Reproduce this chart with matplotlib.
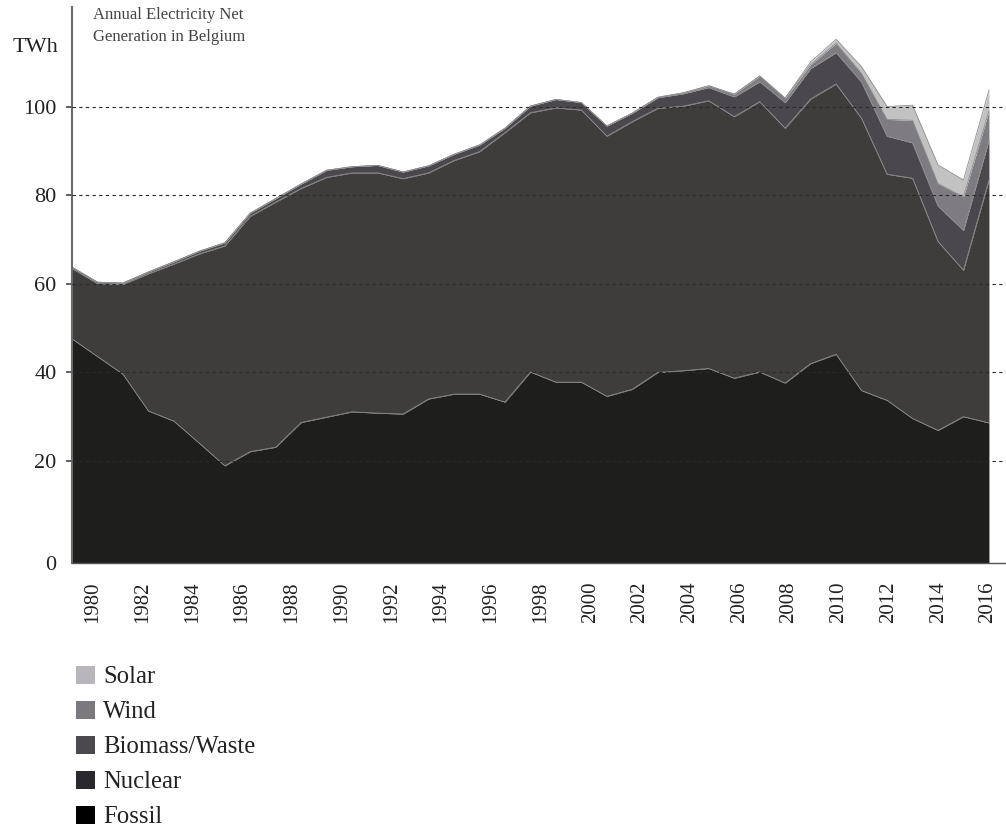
import matplotlib
matplotlib.use("Agg")
import matplotlib.pyplot as plt
from matplotlib.patches import Rectangle
import numpy as np

plt.rcParams['font.family'] = ['Liberation Serif', 'DejaVu Serif']

years = np.arange(1980, 2017)

# TWh
fossil = [47.5, 43.5, 39.5, 31.2, 28.9, 23.9, 18.8, 22.0, 23.0, 28.6,
          29.8, 31.0, 30.7, 30.5, 33.9, 35.0, 35.0, 33.2, 40.0, 37.7,
          37.7, 34.5, 36.1, 39.9, 40.3, 40.8, 38.6, 40.0, 37.5, 41.9,
          44.0, 35.8, 33.6, 29.5, 26.8, 29.9, 28.5]
nuclear = [15.9, 16.5, 20.3, 31.0, 35.5, 42.8, 49.7, 53.2, 55.4, 52.9,
           54.2, 54.0, 54.3, 53.2, 51.1, 52.8, 54.8, 60.9, 58.6, 62.0,
           61.5, 58.8, 60.5, 59.7, 59.8, 60.5, 59.1, 61.1, 57.6, 59.8,
           61.1, 61.5, 51.1, 54.3, 42.7, 33.1, 54.9]
biomass = [0.3, 0.3, 0.3, 0.4, 0.5, 0.6, 0.7, 0.7, 0.8, 1.0,
           1.6, 1.4, 1.7, 1.5, 1.6, 1.4, 1.5, 1.0, 1.5, 1.9,
           1.7, 2.3, 1.9, 2.4, 2.8, 3.0, 4.5, 4.5, 5.8, 6.9,
           7.1, 8.2, 8.6, 8.0, 8.0, 9.0, 9.0]
wind = [0, 0, 0, 0, 0, 0, 0, 0, 0, 0,
        0, 0, 0, 0, 0, 0, 0, 0, 0, 0,
        0, 0, 0, 0.1, 0.2, 0.4, 0.6, 1.3, 1.0, 0.9,
        2.1, 2.0, 3.8, 5.1, 5.1, 7.6, 6.6]
solar = [0, 0, 0, 0, 0, 0, 0, 0, 0, 0,
         0, 0, 0, 0, 0, 0, 0, 0, 0, 0,
         0, 0, 0, 0, 0, 0, 0, 0, 0, 0.6,
         0.9, 1.5, 2.9, 3.4, 4.2, 3.8, 4.7]

layer_names = ['Fossil', 'Nuclear', 'Biomass/Waste', 'Wind', 'Solar']
layer_colors = ['#1e1e1c', '#3e3d3b', '#4a484d', '#7e7c80', '#c3c2c2']
legend_colors = ['#000000', '#29282c', '#4b494e', '#7b797e', '#b8b6bb']

tick_years = np.arange(1980, 2017, 2)
grid_vals = [20, 40, 60, 80, 100]

W, H = 1006, 832
fig = plt.figure(figsize=(W / 100, H / 100), dpi=100)
ax = fig.add_axes([72 / W, 1 - 563 / H, (W - 72) / W, (563 - 7) / H])

ybot = -3.16
lower = np.full(len(years), ybot)
stack = np.zeros(len(years))
for vals, col in zip([fossil, nuclear, biomass, wind, solar], layer_colors):
    stack = stack + np.array(vals)
    ax.fill_between(years, lower, stack, color=col, lw=0, zorder=1)
    ax.plot(years, stack, color='#8e8e8e', lw=0.6, zorder=2)
    lower = stack.copy()

for g in grid_vals:
    ax.axhline(g, color='#2a2a2a', lw=0.8, ls=(0, (3, 3)), zorder=3)

ax.set_xlim(1980, 2016.67)
ax.set_ylim(ybot, 122.5)

ax.set_yticks([ybot] + grid_vals)
ax.set_yticklabels(['0'] + [str(g) for g in grid_vals])
ax.tick_params(axis='y', length=4.5, width=1.2, color='#444444', pad=6.5,
               labelsize=16, labelcolor='#222222')
ax.yaxis.get_major_ticks()[0].tick1line.set_visible(False)

# the year labels sit on a slightly tighter scale than the areas
ax.set_xticks(1980 + (21 + (tick_years - 1980) * 24.86) / 25.47)
ax.set_xticklabels([str(y) for y in tick_years], rotation=90)
ax.tick_params(axis='x', length=0, pad=13, labelsize=15, labelcolor='#222222')

for s in ['top', 'right']:
    ax.spines[s].set_visible(False)
ax.spines['left'].set_color('#6a6a6a')
ax.spines['left'].set_linewidth(1.5)
ax.spines['bottom'].set_color('#555555')
ax.spines['bottom'].set_linewidth(1)

fig.text(58 / W, 1 - 47 / H, 'TWh', ha='right', va='center', fontsize=16,
         color='#222222')
fig.text(93 / W, 1 - 7 / H, 'Annual Electricity Net\nGeneration in Belgium',
         ha='left', va='top', fontsize=12, color='#444444', linespacing=1.5)

# legend, top to bottom
for i, (name, col) in enumerate(zip(layer_names[::-1], legend_colors[::-1])):
    yc = 675 + i * 35
    fig.add_artist(Rectangle((76 / W, 1 - (yc + 9) / H), 19 / W, 18 / H,
                             transform=fig.transFigure, color=col, lw=0))
    fig.text(103 / W, 1 - (yc + 2) / H, name, ha='left', va='center',
             fontsize=17.8, color='#222222')

fig.savefig('out.png', dpi=100)
